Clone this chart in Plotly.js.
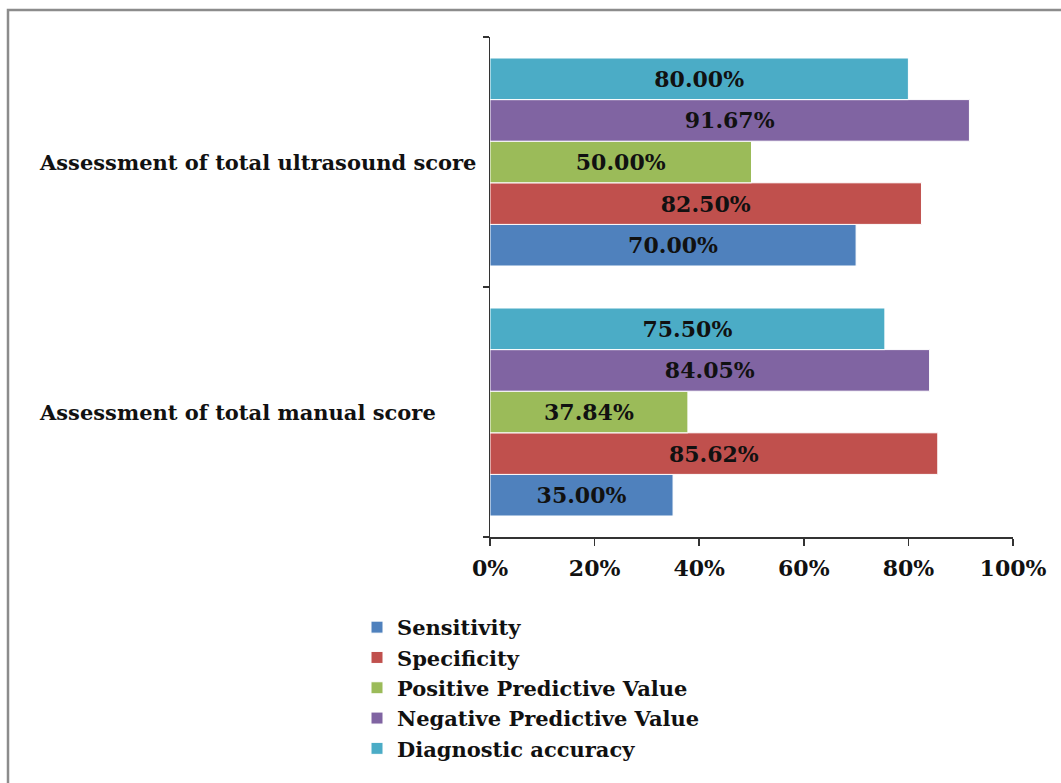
<!DOCTYPE html>
<html>
<head>
<meta charset="utf-8">
<script src="https://cdn.plot.ly/plotly-3.0.1.min.js"></script>
<style>
html,body{margin:0;padding:0;background:#fff;}
#chart{width:1061px;height:783px;}
</style>
</head>
<body>
<div id="chart"></div>
<script>
const categories = ["Assessment of total manual score", "Assessment of total ultrasound score"];
const seriesNames = ["Sensitivity", "Specificity", "Positive Predictive Value", "Negative Predictive Value", "Diagnostic accuracy"];
const sensitivity = [35.00, 70.00];
const specificity = [85.62, 82.50];
const ppv = [37.84, 50.00];
const npv = [84.05, 91.67];
const accuracy = [75.50, 80.00];
const tickValues = [0, 20, 40, 60, 80, 100];
const tickLabels = ["0%", "20%", "40%", "60%", "80%", "100%"];

const seriesValues = [sensitivity, specificity, ppv, npv, accuracy];
const colors = ["#4F81BD", "#C0504D", "#9BBB59", "#8064A2", "#4BACC6"];
const FONT = "DejaVu Serif";
const TXT = "#111111";

const traces = seriesValues.map((vals, i) => ({
  type: "bar",
  orientation: "h",
  name: seriesNames[i],
  y: categories,
  x: vals,
  text: vals.map(v => v.toFixed(2) + "%"),
  textposition: "inside",
  insidetextanchor: "middle",
  textangle: 0,
  constraintext: "none",
  textfont: {family: FONT, size: 22, color: TXT, weight: "bold"},
  marker: {color: colors[i], line: {color: "#ffffff", width: 1}},
  hoverinfo: "skip"
}));

const annotations = categories.map(c => ({
  xref: "paper", yref: "y",
  x: (37 - 490) / 523, y: c,
  xanchor: "left", yanchor: "middle",
  text: c,
  showarrow: false,
  font: {family: FONT, size: 21, color: TXT, weight: "bold"}
}));

const layout = {
  width: 1061, height: 783,
  margin: {l: 490, r: 48, t: 37, b: 246, pad: 0},
  paper_bgcolor: "#ffffff",
  plot_bgcolor: "#ffffff",
  barmode: "group",
  bargap: 0.168,
  bargroupgap: 0,
  showlegend: true,
  legend: {
    x: (357 - 490) / 523, y: -0.14, xanchor: "left", yanchor: "top",
    orientation: "v", traceorder: "normal",
    font: {family: FONT, size: 21, color: TXT, weight: "bold"},
    itemwidth: 30, tracegroupgap: 0
  },
  xaxis: {
    range: [0, 100],
    tickvals: tickValues,
    ticktext: tickLabels,
    showgrid: false, zeroline: false,
    showline: true, linecolor: "#333", linewidth: 1.5,
    ticks: "outside", ticklen: 7, tickcolor: "#333", tickwidth: 1.5,
    ticklabelstandoff: 4,
    tickfont: {family: FONT, size: 22, color: TXT, weight: "bold"},
    fixedrange: true
  },
  yaxis: {
    type: "category",
    showgrid: false, zeroline: false,
    showline: true, linecolor: "#333", linewidth: 1.5,
    ticks: "outside", tickson: "boundaries", ticklen: 6, tickcolor: "#333", tickwidth: 1.5,
    showticklabels: false,
    fixedrange: true
  },
  annotations: annotations,
  shapes: [{
    type: "rect", xref: "paper", yref: "paper",
    x0: (8 - 490) / 523, x1: 1.3,
    y0: -0.8, y1: (537 - 10) / 500,
    line: {color: "#8c8c8c", width: 2.5},
    fillcolor: "rgba(0,0,0,0)",
    layer: "below"
  }]
};

Plotly.newPlot("chart", traces, layout, {displayModeBar: false, staticPlot: true});
</script>
</body>
</html>
